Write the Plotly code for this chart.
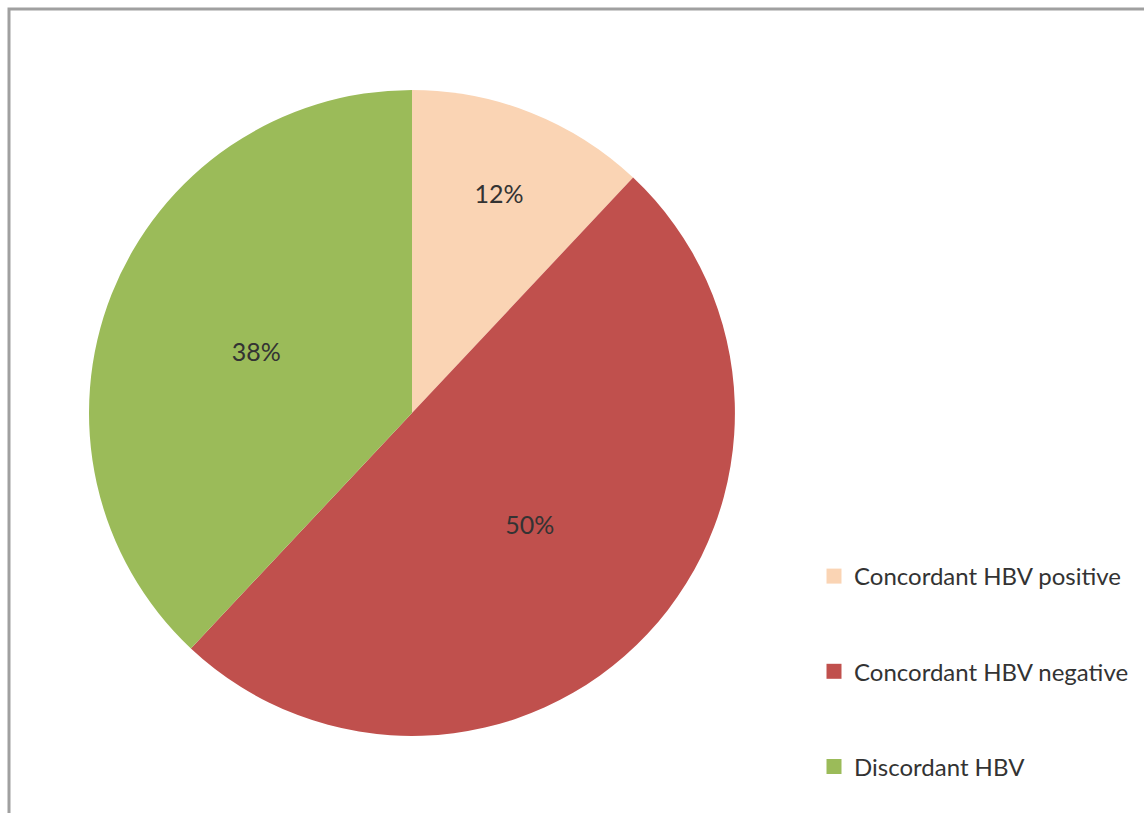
import plotly.graph_objects as go

# Share of HBV results by concordance category (percent)
categories = ["Concordant HBV positive", "Concordant HBV negative", "Discordant HBV"]
shares = [12, 50, 38]
colors = ["#FAD4B4", "#C0504D", "#9BBB59"]

W, H = 1144, 813
FONT = "Lato"
TEXT_COLOR = "#333333"

fig = go.Figure()

fig.add_trace(go.Pie(
    labels=categories,
    values=shares,
    sort=False,
    direction="clockwise",
    rotation=0,
    marker=dict(colors=colors, line=dict(width=0)),
    texttemplate="%{value}%",
    textposition="inside",
    insidetextorientation="horizontal",
    textfont=dict(family=FONT, size=25, color=TEXT_COLOR),
    hoverinfo="label+percent",
    showlegend=False,
    domain=dict(x=[89 / W, 735 / W], y=[(H - 736) / H, (H - 90) / H]),
))

# Legend entries as square markers, spaced apart by group gaps
for name, col in zip(categories, colors):
    fig.add_trace(go.Scatter(
        x=[None], y=[None],
        mode="markers",
        marker=dict(symbol="square", size=15, color=col),
        name=name,
        legendgroup=name,
        showlegend=True,
    ))

fig.update_layout(
    width=W, height=H,
    margin=dict(l=0, r=0, t=0, b=0),
    paper_bgcolor="white",
    plot_bgcolor="white",
    xaxis=dict(visible=False),
    yaxis=dict(visible=False),
    legend=dict(
        x=814 / W, xanchor="left",
        y=1 - 554 / H, yanchor="top",
        traceorder="grouped",
        tracegroupgap=61,
        font=dict(family=FONT, size=24, color=TEXT_COLOR),
        bgcolor="rgba(0,0,0,0)",
    ),
    shapes=[dict(
        type="rect", xref="paper", yref="paper",
        x0=9 / W, x1=1.05, y0=-0.05, y1=1 - 9 / H,
        line=dict(color="#A0A0A0", width=3),
        fillcolor="rgba(0,0,0,0)",
        layer="below",
    )],
)

fig.write_html("out.html")
